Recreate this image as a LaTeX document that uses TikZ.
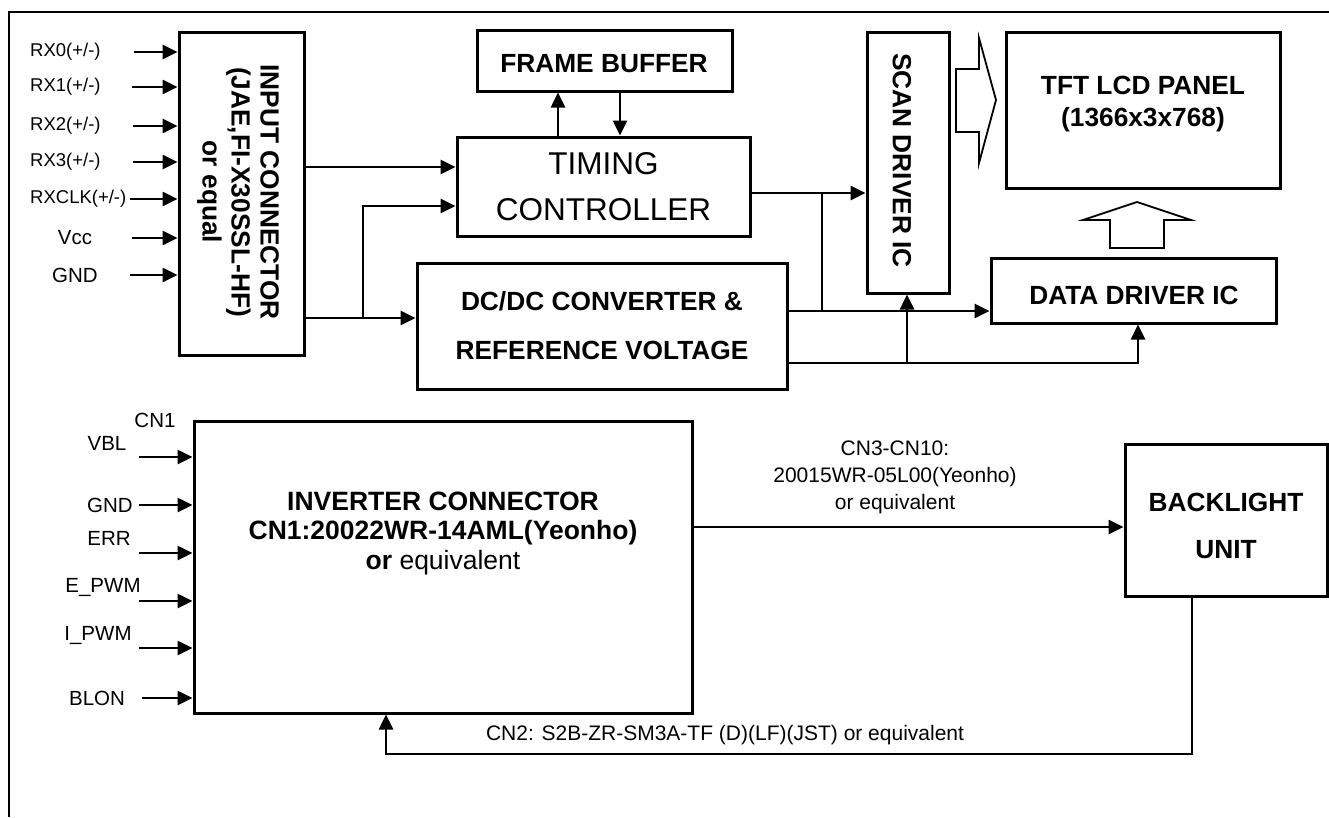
\documentclass[tikz,border=0pt]{standalone}
\usepackage{fontspec}
\setmainfont{Liberation Sans}
\usetikzlibrary{arrows.meta}
\begin{document}
\begin{tikzpicture}[x=1pt,y=-1pt,
  box/.style={draw, line width=3pt, inner sep=0pt, align=center},
  arr/.style={line width=2.6pt, -{Triangle[length=15pt,width=14pt]}},
  ln/.style={line width=2.6pt},
  bf/.style={font=\fontsize{26.3}{29}\selectfont\bfseries, inner sep=0pt, align=center},
  sm/.style={font=\fontsize{18.5}{22}\selectfont, inner sep=0pt},
  md/.style={font=\fontsize{20.5}{24}\selectfont, inner sep=0pt},
  cn/.style={font=\fontsize{21}{27}\selectfont, inner sep=0pt, align=center},
  hollow/.style={draw, line width=1.8pt, line join=miter}
]
\useasboundingbox (0,0) rectangle (1329,817);
\draw[line width=2.4pt] (9,817) -- (9,12) -- (1329,12);

% ---------- boxes ----------
\node[box, minimum width=125pt, minimum height=323pt] (inp) at (241.5,193.5) {};
\node[bf, rotate=-90] (inptxt) at (238,192) {INPUT CONNECTOR\\(JAE,FI-X30SSL-HF)\\or equal};

\node[box, minimum width=255pt, minimum height=61pt] (fb) at (604.5,60.5) {};
\node[bf] (fbtxt) at (604,64) {FRAME BUFFER};

\node[box, minimum width=293pt, minimum height=99pt,
      font=\fontsize{31.5}{46}\selectfont] (tc) at (603.5,186.5) {TIMING\\CONTROLLER};

\node[box, minimum width=370pt, minimum height=126pt,
      font=\fontsize{26.3}{49}\selectfont\bfseries] (dc) at (602,326) {DC/DC CONVERTER \&\\REFERENCE VOLTAGE};

\node[box, minimum width=82pt, minimum height=261pt] (scan) at (908,162.5) {};
\node[bf, rotate=-90] (scantxt) at (902,160.5) {SCAN DRIVER IC};

\node[box, minimum width=274pt, minimum height=156pt] (tft) at (1143,110) {};
\node[bf, font=\fontsize{26.3}{32}\selectfont\bfseries] (tfttxt) at (1143,104) {TFT LCD PANEL\\(1366x3x768)};

\node[box, minimum width=285pt, minimum height=65pt] (data) at (1133.5,290.5) {};
\node[bf] (datatxt) at (1134,295) {DATA DRIVER IC};

\node[box, minimum width=498pt, minimum height=292pt] (inv) at (443,567) {};
\node[bf, font=\fontsize{26.5}{29.5}\selectfont\bfseries] (invtxt) at (443,533)
  {INVERTER CONNECTOR\\CN1:20022WR-14AML(Yeonho)\\or \mdseries equivalent};

\node[box, minimum width=202pt, minimum height=152pt] (bl) at (1226,520) {};
\node[bf, font=\fontsize{26.3}{47}\selectfont\bfseries] (bltxt) at (1226,526) {BACKLIGHT\\UNIT};

% ---------- input connector signals ----------
\node[sm, anchor=west] (lab0) at (30,52) {RX0(+/-)};
\node[sm, anchor=west] (lab1) at (30,87) {RX1(+/-)};
\node[sm, anchor=west] (lab2) at (30,126) {RX2(+/-)};
\node[sm, anchor=west] (lab3) at (30,162) {RX3(+/-)};
\node[sm, anchor=west] (lab4) at (30,199) {RXCLK(+/-)};
\node[md] (lab5) at (75,238) {Vcc};
\node[md] (lab6) at (75,275) {GND};
\coordinate (s0) at (134,52);
\coordinate (s1) at (132,87);
\coordinate (s2) at (133,126);
\coordinate (s3) at (133,162);
\coordinate (s4) at (130,199);
\coordinate (s5) at (132,238);
\coordinate (s6) at (130,275);
\foreach \n in {0,...,6}{
  \draw[arr] (s\n) -- (s\n -| inp.west);
}

% ---------- top connectors ----------
\coordinate (a1) at (304,167);
\draw[arr] (a1 -| inp.east) -- (a1 -| tc.west);
\coordinate (a2) at (304,318);
\draw[arr] (a2 -| inp.east) -- (a2 -| dc.west);
\coordinate (b1) at (363,318);
\coordinate (b2) at (363,206);
\draw[arr] (b1) -- (b2) -- (b2 -| tc.west);

\coordinate (u1) at (558,137);
\draw[arr] (u1 |- tc.north) -- (u1 |- fb.south);
\coordinate (u2) at (620,91);
\draw[arr] (u2 |- fb.south) -- (u2 |- tc.north);

\coordinate (c1) at (750,193);
\draw[arr] (c1 -| tc.east) -- (c1 -| scan.west);
\coordinate (c2) at (822,193);
\coordinate (c3) at (822,311);
\draw[ln] (c2) -- (c3);
\coordinate (d1) at (787,311);
\draw[arr] (d1 -| dc.east) -- (d1 -| data.west);
\coordinate (d2) at (787,363);
\coordinate (d3) at (1138,363);
\draw[arr] (d2 -| dc.east) -- (d3) -- (d3 |- data.south);
\coordinate (d4) at (907,363);
\draw[arr] (d4) -- (d4 |- scan.south);

% ---------- hollow arrows ----------
\draw[hollow] (956,69) -- (979,69) -- (979,38) -- (996,100) -- (979,163) -- (979,132) -- (956,132) -- cycle;
\draw[hollow] (1110,248) -- (1110,220) -- (1083,220) -- (1137,202) -- (1191,220) -- (1164,220) -- (1164,248) -- cycle;

% ---------- inverter signals ----------
\node[md] (cn1) at (155,420) {CN1};
\node[md] (vbl) at (107,443) {VBL};
\node[md, anchor=east] (gnd2) at (133,505) {GND};
\node[md] (err) at (109,538) {ERR};
\node[md] (epwm) at (103,587) {E\_PWM};
\node[md] (ipwm) at (98,635) {I\_PWM};
\node[md] (blon) at (97,698) {BLON};
\foreach \n/\y in {1/457,2/505,3/553,4/601,5/648}{
  \coordinate (t\n) at (139,\y);
  \draw[arr] (t\n) -- (t\n -| inv.west);
}
\coordinate (t6) at (142,698);
\draw[arr] (t6) -- (t6 -| inv.west);

% ---------- inverter <-> backlight ----------
\coordinate (e1) at (692,527);
\draw[arr] (e1 -| inv.east) -- (e1 -| bl.west);
\node[cn] (cn3) at (895,477) {CN3-CN10:\\20015WR-05L00(Yeonho)\\or equivalent};

\coordinate (f1) at (1192,754);
\coordinate (f2) at (386,754);
\draw[arr] (f1 |- bl.south) -- (f1) -- (f2) -- (f2 |- inv.south);
\node[cn] (cn2) at (725,735) {CN2: S2B-ZR-SM3A-TF (D)(LF)(JST) or equivalent};
\end{tikzpicture}
\end{document}
